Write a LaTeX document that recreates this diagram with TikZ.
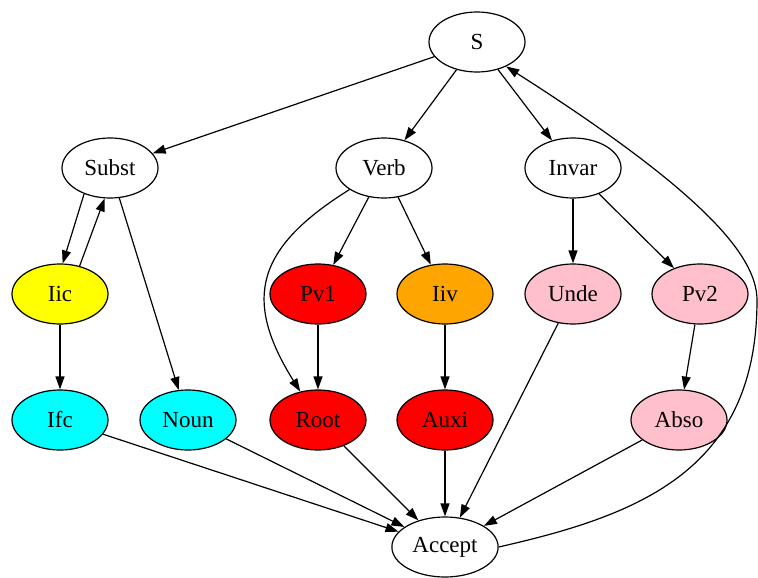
\documentclass[tikz,border=0pt]{standalone}
\usepackage{fontspec}
\setmainfont{Liberation Serif}
\usepackage{tikz}
\usetikzlibrary{arrows.meta}
\usetikzlibrary{shapes}
\definecolor{gvpink}{RGB}{255,192,203}
\definecolor{gvorange}{RGB}{255,165,0}
\definecolor{gvcyan}{RGB}{0,255,255}
\definecolor{gvyellow}{RGB}{255,255,0}
\definecolor{gvred}{RGB}{255,0,0}
\tikzset{
  tag/.style={ellipse,draw,line width=1.2pt,inner xsep=5pt,inner ysep=2pt,
    minimum width=96pt,minimum height=60pt,font=\fontsize{23}{26}\selectfont},
  arc/.style={line width=1.2pt,-{Triangle[length=13pt,width=9pt]}}
}
\newcommand{\tagnode}[5]{ \node[tag,fill=#5] (#1) at ( #2 , #3 ) {#4};}
\newcommand{\arcto}[2]{ \draw[arc] (#1) -- (#2);}

\begin{document}
\begin{tikzpicture}[x=1pt,y=1pt]
        \useasboundingbox (0,0) rectangle (758,-578);
        % top
        \tagnode{S}{477}{-42}{S}{white}
        % row1
        \tagnode{Subst}{110}{-168}{Subst}{white}
        \tagnode{Verb}{384}{-168}{Verb}{white}
        \tagnode{Invar}{573}{-168}{Invar}{white}
        % row2
        \tagnode{Iic}{60}{-294}{Iic}{gvyellow}
        \tagnode{Pv1}{318}{-294}{Pv1}{gvred}
        \tagnode{Iiv}{445}{-294}{Iiv}{gvorange}
        \tagnode{Unde}{573}{-294}{Unde}{gvpink}
        \tagnode{Pv2}{700}{-294}{Pv2}{gvpink}
        % row3
        \tagnode{Ifc}{60}{-420}{Ifc}{gvcyan}
        \tagnode{Noun}{188}{-420}{Noun}{gvcyan}
        \tagnode{Root}{318}{-420}{Root}{gvred}
        \tagnode{Auxi}{445}{-420}{Auxi}{gvred}
        \tagnode{Abso}{679}{-420}{Abso}{gvpink}
        % bottom
        \tagnode{Accept}{445}{-547}{Accept}{white}

        % from S
        \arcto{S}{Subst}
        \arcto{S}{Verb}
        \arcto{S}{Invar}
        % from row1
        \arcto{Subst.225}{Iic.85}
        \arcto{Iic.55}{Subst.260}
        \arcto{Subst}{Noun}
        \draw[arc] (Verb) to[out=212,in=122,looseness=1.35] (Root);
        \arcto{Verb}{Pv1}
        \arcto{Verb}{Iiv}
        \arcto{Invar}{Unde}
        \arcto{Invar}{Pv2}
        % from row2
        \arcto{Iic}{Ifc}
        \arcto{Pv1}{Root}
        \arcto{Iiv}{Auxi}
        \arcto{Pv2}{Abso}
        \arcto{Unde}{Accept}
        % from row3
        \arcto{Ifc}{Accept}
        \arcto{Noun}{Accept}
        \arcto{Root}{Accept}
        \arcto{Auxi}{Accept}
        \arcto{Abso}{Accept}
        % back to S
        \draw[arc] (Accept.east) .. controls (640,-515) and (757,-470) .. (757,-300)
              .. controls (757,-255) and (700,-190) .. (S.-40);

    \end{tikzpicture}
\end{document}
